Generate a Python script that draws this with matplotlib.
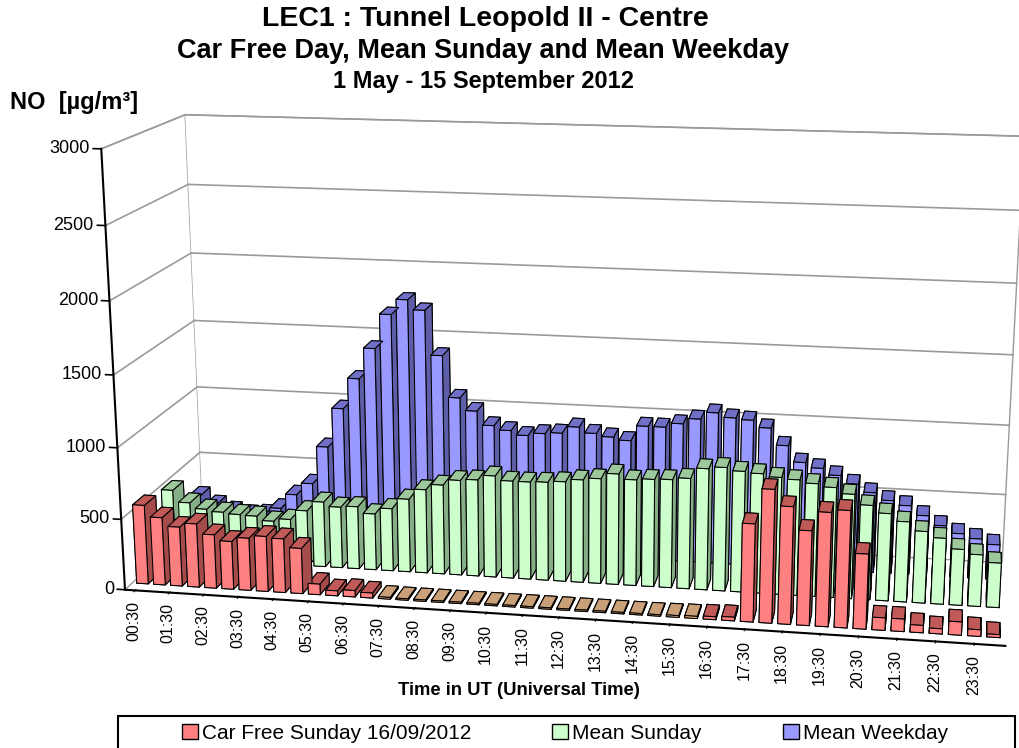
import numpy as np
import matplotlib.pyplot as plt
from matplotlib.patches import Patch, Rectangle
from mpl_toolkits.mplot3d import proj3d

plt.rcParams['font.family'] = ['Liberation Sans', 'DejaVu Sans']

# half-hourly NO concentrations (µg/m³), 00:30 ... 24:00 UT
car_free = [560, 480, 420, 450, 380, 340, 370, 390, 380, 320,
            75, 35, 45, 35, 12, 10, 10, 10, 10, 10,
            10, 10, 10, 10, 10, 10, 10, 10, 10, 10,
            12, 15, 20, 25, 670, 910, 800, 645, 775, 795,
            510, 85, 85, 50, 35, 90, 45, 20]
mean_sunday = [495, 410, 370, 355, 345, 340, 310, 330, 400, 470,
               440, 450, 405, 450, 525, 600, 640, 680, 690, 725,
               695, 695, 700, 710, 730, 745, 785, 750, 760, 765,
               780, 855, 870, 850, 840, 820, 810, 790, 770, 730,
               660, 610, 560, 500, 460, 390, 360, 310]
mean_weekday = [280, 220, 180, 160, 170, 220, 330, 420, 700, 990,
                1215, 1440, 1690, 1800, 1730, 1410, 1110, 1020, 920, 890,
                860, 880, 890, 940, 900, 880, 860, 970, 970, 1000,
                1040, 1090, 1060, 1050, 1000, 880, 765, 730, 685, 630,
                575, 525, 495, 430, 365, 315, 285, 250]
tick_labels = [f"{h:02d}:30" for h in range(24)]
value_ticks = [0, 500, 1000, 1500, 2000, 2500, 3000]
series_names = ["Car Free Sunday 16/09/2012", "Mean Sunday", "Mean Weekday"]

# face colours: front, top, side
red_faces = ('#FF8080', '#C05A58', '#A54C4A')
tan_faces = ('#F7BB80', '#C9A078', '#A98560')
green_faces = ('#CCFFCC', '#9CC89C', '#86AE86')
blue_faces = ('#9999FF', '#7070C8', '#5E5EA8')

fig = plt.figure(figsize=(10.19, 7.48), dpi=100)
# square 3D axes as wide as the figure, so nothing gets clipped
side = 1.0
ax = fig.add_axes([0.047, 0.494 - side * 1019 / 748 / 2, side, side * 1019 / 748],
                  projection='3d', computed_zorder=False)
ax.set_proj_type('persp', focal_length=0.4)
ax.view_init(elev=14.5, azim=-80)
ax.set_box_aspect((3.7, 1.0, 1.9), zoom=0.96)

n = len(car_free)
xpos = np.arange(n)
width, depth = 0.68, 0.4


def face_colors(values, faces, low=None):
    cols = []
    for v in values:
        front, top, side_c = low if (low is not None and v <= 15) else faces
        # order used by bar3d: bottom, top, -y, +y, -x, +x
        cols += [side_c, top, front, side_c, side_c, side_c]
    return cols


rows = [(mean_weekday, 2.0, blue_faces, None, 1),
        (mean_sunday, 1.0, green_faces, None, 2),
        (car_free, 0.0, red_faces, tan_faces, 3)]
for values, ypos, faces, low, z in rows:
    bars = ax.bar3d(xpos - width / 2, np.full(n, ypos), np.zeros(n),
                    width, depth, values, color=face_colors(values, faces, low),
                    shade=False, edgecolor='black', linewidth=0.75, zorder=z)
    bars.set_clip_on(False)

xmin, xmax = -0.6, n - 0.4
ymin, ymax = -0.25, 2.65
ax.set_xlim(xmin, xmax)
ax.set_ylim(ymin, ymax)
ax.set_zlim(0, 3000)

# walls, gridlines and the value axis at the front-left edge
ax.grid(False)
for a in (ax.xaxis, ax.yaxis):
    a.set_pane_color((1, 1, 1, 1))
    a.pane.set_edgecolor('#9a9a9a')
ax.zaxis.set_pane_color((1, 1, 1, 0))
ax.zaxis.pane.set_edgecolor((1, 1, 1, 0))
for v in value_ticks[1:]:
    ax.plot([xmin, xmax], [ymax, ymax], [v, v], color='#9a9a9a', lw=1.2, zorder=0)
    ax.plot([xmin, xmin], [ymin, ymax], [v, v], color='#9a9a9a', lw=1.2, zorder=0)
ax.plot([xmin, xmin], [ymin, ymin], [0, 3000], color='black', lw=1.5, zorder=0.5)
for v in value_ticks:
    ax.plot([xmin - 0.45, xmin], [ymin, ymin], [v, v], color='black', lw=1.2, zorder=0.5)
for line in ax.lines:
    line.set_clip_on(False)

ax.set_zticks([])
ax.zaxis.line.set_color((1, 1, 1, 0))
ax.yaxis.line.set_color((1, 1, 1, 0))
ax.set_yticks([])
ax.xaxis.line.set_color('black')
ax.xaxis.line.set_linewidth(1.5)
for a in (ax.xaxis, ax.yaxis, ax.zaxis):
    a.label.set_visible(False)
    a.offsetText.set_visible(False)

ax.set_xticks(np.arange(0, n, 2))
ax.set_xticklabels(tick_labels, rotation=90, fontsize=11.5, va='top', ha='center')
ax.tick_params(axis='x', pad=0)

# value labels beside the front-left edge, placed through the 3D projection
fig.canvas.draw()
proj = ax.get_proj()
for v in value_ticks:
    px, py, _ = proj3d.proj_transform(xmin - 0.65, ymin, v, proj)
    ax.text2D(px, py, str(v), transform=ax.transData, ha='right', va='center',
              fontsize=13)

fig.text(0.476, 0.975, "LEC1 : Tunnel Leopold II - Centre", ha='center', va='center',
         fontsize=20.5, fontweight='bold')
fig.text(0.474, 0.932, "Car Free Day, Mean Sunday and Mean Weekday", ha='center',
         va='center', fontsize=19.5, fontweight='bold')
fig.text(0.474, 0.891, "1 May - 15 September 2012", ha='center', va='center',
         fontsize=17, fontweight='bold')
fig.text(0.01, 0.863, "NO  [µg/m³]", ha='left', va='center', fontsize=17,
         fontweight='bold')
fig.text(0.509, 0.077, "Time in UT (Universal Time)", ha='center', va='center',
         fontsize=13.3, fontweight='bold')

# legend strip along the bottom edge
fig.patches.append(Rectangle((118 / 1019, -0.02), 897 / 1019, 0.0627, transform=fig.transFigure,
                             facecolor='white', edgecolor='black', linewidth=1.5))
handles = [Patch(facecolor=c[0], edgecolor='black') for c in (red_faces, green_faces, blue_faces)]
fig.legend(handles, series_names, loc='center left', ncol=3,
           bbox_to_anchor=(182 / 1019, 0.02), fontsize=15, frameon=False,
           handlelength=0.75, handleheight=0.75, handletextpad=0.2,
           columnspacing=3.9, borderaxespad=0, borderpad=0)

fig.savefig('out.png', dpi=100)
